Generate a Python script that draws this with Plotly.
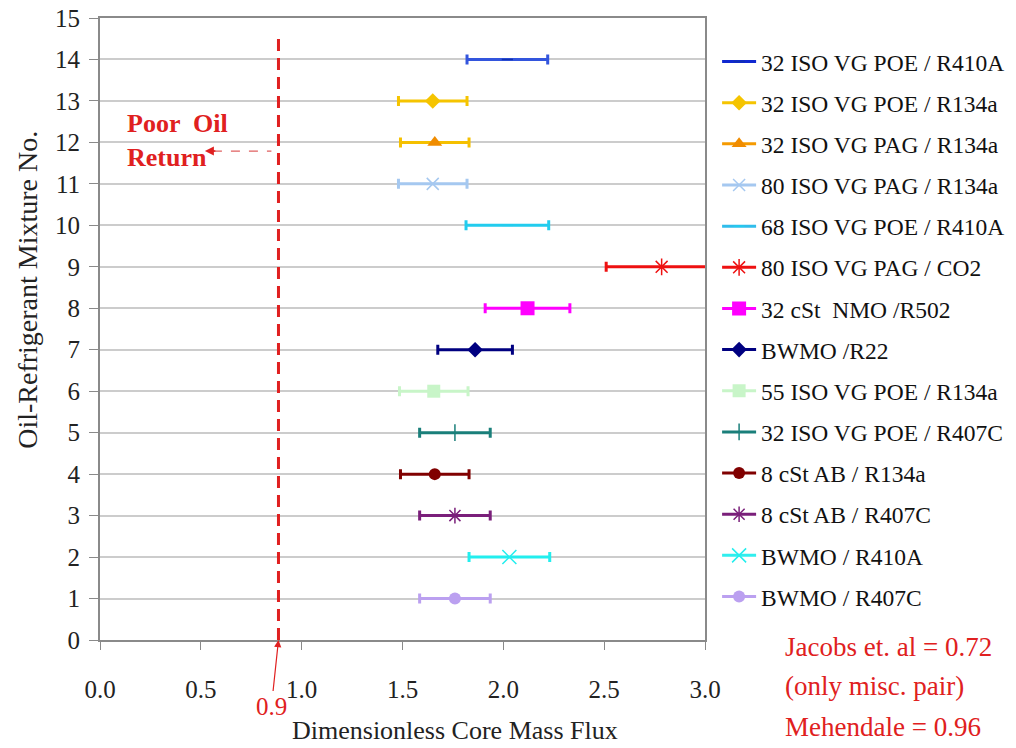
import plotly.graph_objects as go

# Data (row 14 at top down to row 1)
names = ["32 ISO VG POE / R410A", "32 ISO VG POE / R134a", "32 ISO VG PAG / R134a",
         "80 ISO VG PAG / R134a", "68 ISO VG POE / R410A", "80 ISO VG PAG / CO2",
         "32 cSt  NMO /R502", "BWMO /R22", "55 ISO VG POE / R134a",
         "32 ISO VG POE / R407C", "8 cSt AB / R134a", "8 cSt AB / R407C",
         "BWMO / R410A", "BWMO / R407C"]
mixture_no = [14, 13, 12, 11, 10, 9, 8, 7, 6, 5, 4, 3, 2, 1]
core_flux = [2.02, 1.65, 1.66, 1.65, 2.02, 2.785, 2.12, 1.86, 1.655, 1.76, 1.66, 1.76, 2.03, 1.76]
err_plus = [0.20, 0.17, 0.17, 0.17, 0.205, 0.25, 0.21, 0.185, 0.17, 0.175, 0.17, 0.175, 0.20, 0.175]
err_minus = [0.20, 0.17, 0.17, 0.17, 0.205, 0.275, 0.21, 0.185, 0.17, 0.175, 0.17, 0.175, 0.20, 0.175]
line_colors = ["#1028D0", "#F5C400", "#F59A00", "#A5C8F0", "#30BDEB", "#EE1111", "#FF00FF",
               "#000080", "#C8F5C8", "#1A7F7A", "#800000", "#7A1F7A", "#30EEEE", "#BBA0F0"]
err_colors = ["#3355DD", "#F5C400", "#F5C000", "#A5C8F0", "#22CCEE", "#EE1111", "#FF00FF",
              "#000080", "#C8F5C8", "#1A7F7A", "#800000", "#7A1F7A", "#22EEEE", "#BBA0F0"]
marker_colors = ["#1030B0", "#F5C400", "#F08C00", "#A5C8F0", "#22CCEE", "#EE1111", "#FF00FF",
                 "#000080", "#C8F5C8", "#1A7F7A", "#800000", "#7A1F7A", "#22EEEE", "#BBA0F0"]
symbols = ["line-ew", "diamond", "triangle-up", "x-thin", "line-ew", "asterisk", "square",
           "diamond", "square", "line-ns", "circle", "asterisk", "x-thin", "circle"]
sizes = [8, 12, 13, 12, 8, 14, 14, 12, 13, 12, 12, 13, 14, 12]

threshold_x = 0.885
threshold_label = "0.9"
notes = ["Jacobs et. al = 0.72", "(only misc. pair)", "Mehendale = 0.96"]

serif = "Liberation Serif, Times New Roman, serif"
red = "#E02020"

fig = go.Figure()
for i in range(len(names)):
    open_sym = symbols[i] in ("line-ew", "x-thin", "asterisk", "line-ns")
    fig.add_trace(go.Scatter(
        x=[core_flux[i]], y=[mixture_no[i]], name=names[i],
        mode="lines+markers", legendgroup=str(i),
        line=dict(color=line_colors[i], width=3),
        marker=dict(symbol=symbols[i], size=sizes[i], color=marker_colors[i],
                    line=dict(color=marker_colors[i], width=1.5 if open_sym else 0)),
        error_x=dict(type="data", symmetric=False, array=[err_plus[i]], arrayminus=[err_minus[i]],
                     color=err_colors[i], thickness=3, width=5),
        cliponaxis=False,
    ))

# threshold dashed line
fig.add_shape(type="line", x0=threshold_x, x1=threshold_x, y0=0, y1=14.5,
              line=dict(color=red, width=3, dash="12px,7px"))
# dashed arrow for Poor Oil Return
fig.add_shape(type="line", x0=0.56, x1=0.85, y0=11.79, y1=11.79,
              line=dict(color="#E06060", width=1.2, dash="dash"))
fig.add_annotation(x=0.52, y=11.79, ax=12, ay=0, showarrow=True, arrowhead=2, arrowsize=1.2,
                   arrowwidth=1.5, arrowcolor=red, text="")
fig.add_annotation(x=0.124, y=12.05, xanchor="left", yanchor="middle", text="<b>Poor  Oil<br>Return</b>",
                   showarrow=False, font=dict(family=serif, size=26, color=red), align="left")
# 0.9 label with arrow
fig.add_annotation(x=threshold_x, y=0, ax=-7, ay=66, text=threshold_label, showarrow=True,
                   arrowhead=2, arrowsize=1.2, arrowwidth=1.2, arrowcolor=red,
                   font=dict(family=serif, size=25, color=red))

# right-bottom notes
for txt, yp in zip(notes, [-0.011, -0.074, -0.140]):
    fig.add_annotation(xref="paper", yref="paper", x=1.129, y=yp, xanchor="left", yanchor="middle",
                       text=txt, showarrow=False, font=dict(family=serif, size=27, color=red))

# axis titles
fig.add_annotation(xref="paper", yref="paper", x=0.587, y=-0.146, xanchor="center", yanchor="middle",
                   text="Dimensionless Core Mass Flux",
                   showarrow=False, font=dict(family=serif, size=26, color="#222"))
fig.add_annotation(xref="paper", yref="paper", x=-0.119, y=0.563, xanchor="center", yanchor="middle",
                   text="Oil-Refrigerant Mixture No.",
                   textangle=-90, showarrow=False, font=dict(family=serif, size=28, color="#222"))

fig.update_layout(
    width=1016, height=748, margin=dict(l=100, r=311, t=18, b=108, autoexpand=False),
    paper_bgcolor="white", plot_bgcolor="white",
    font=dict(family=serif, size=25, color="#222"),
    showlegend=True,
    legend=dict(x=1.02, xanchor="left", y=0.965, yanchor="top", font=dict(family=serif, size=23.5, color="#111"),
                tracegroupgap=7.6, traceorder="grouped", itemwidth=34, bgcolor="rgba(0,0,0,0)"),
)
fig.update_xaxes(range=[0, 3], dtick=0.5, tickformat=".1f", showgrid=False, showline=True,
                 linecolor="#8a8a8a", linewidth=2, mirror=True, ticks="outside", ticklen=8,
                 tickcolor="#8a8a8a", zeroline=False, ticklabelstandoff=18,
                 tickfont=dict(family=serif, size=25, color="#222"))
fig.update_yaxes(range=[0, 15], dtick=1, showgrid=True, gridcolor="#cccccc", gridwidth=1.5,
                 showline=True, linecolor="#8a8a8a", linewidth=2, mirror=True, ticks="outside",
                 ticklen=9, tickcolor="#8a8a8a", zeroline=False, ticklabelstandoff=4,
                 tickfont=dict(family=serif, size=25, color="#222"))

fig.write_html("out.html")
